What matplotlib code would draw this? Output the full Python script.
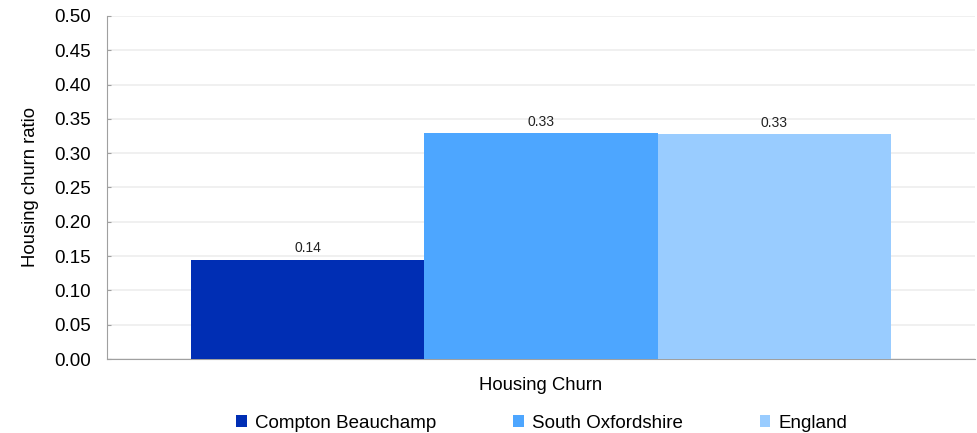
import matplotlib.pyplot as plt
import numpy as np

plt.rcParams['font.family'] = ['Liberation Sans', 'DejaVu Sans']

category = ['Housing Churn']
series = ['Compton Beauchamp', 'South Oxfordshire', 'England']
values = [0.145, 0.33, 0.328]
labels = ['0.14', '0.33', '0.33']
colours = ['#002EB4', '#4DA6FF', '#99CCFF']

fig = plt.figure(figsize=(9.78, 4.33), dpi=100)
ax = fig.add_axes([107 / 978, 1 - 359 / 433, 868 / 978, 343 / 433])

bar_w = 0.8 / 3 * (700 / 868) / 0.8
x0 = 0.0
for i, (name, v, lab, c) in enumerate(zip(series, values, labels, colours)):
    xpos = x0 + (i - 1) * bar_w
    ax.bar(xpos, v, width=bar_w, color=c, label=name, zorder=3)
    ax.text(xpos, v + 0.006, lab, ha='center', va='bottom', fontsize=10, color='#222222')

ax.set_xlim(-0.5, 0.5)
ax.set_ylim(0, 0.5)
ax.set_yticks(np.arange(0, 0.51, 0.05))
ax.set_yticklabels(['%.2f' % t for t in np.arange(0, 0.51, 0.05)], fontsize=13.5)
ax.set_xticks([0])
ax.set_xticklabels(category, fontsize=13.3)
ax.tick_params(axis='x', length=0, pad=13)
ax.tick_params(axis='y', length=3, color='#A0A0A0', direction='in', pad=11.5)
ax.grid(axis='y', color='#EEEEEE', linewidth=1.2, zorder=0)
ax.set_ylabel('Housing churn ratio', fontsize=13.3, labelpad=11)

for s in ['top', 'right']:
    ax.spines[s].set_visible(False)
for s in ['left', 'bottom']:
    ax.spines[s].set_color('#A0A0A0')

ax.legend(loc='center', bbox_to_anchor=(435 / 868, -64 / 343), ncol=3, frameon=False,
          fontsize=13.5, handlelength=0.55, handleheight=0.55, handletextpad=0.45,
          columnspacing=4.1)

fig.savefig('out.png', dpi=100)
